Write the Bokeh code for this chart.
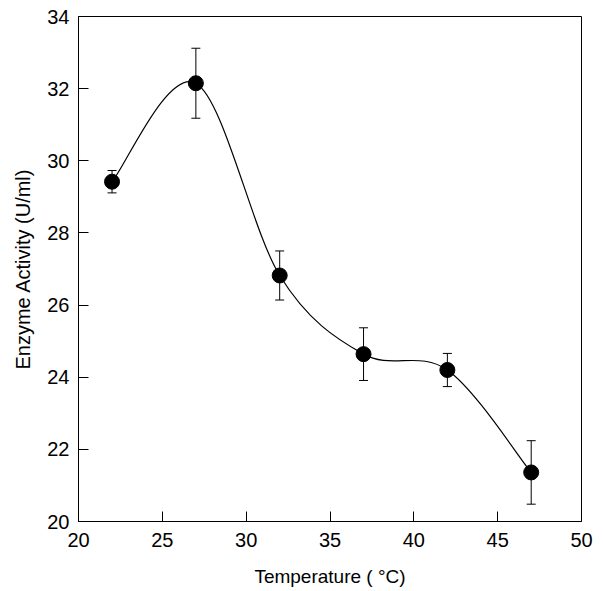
from bokeh.plotting import figure
from bokeh.models import ColumnDataSource, Whisker, Range1d, FixedTicker
from bokeh.embed import file_html
from bokeh.resources import INLINE

temperature = [22, 27, 32, 37, 42, 47]
activity = [29.42, 32.15, 26.82, 24.64, 24.20, 21.36]
error = [0.31, 0.97, 0.68, 0.73, 0.46, 0.88]
x_ticks = [20, 25, 30, 35, 40, 45, 50]
y_ticks = [20, 22, 24, 26, 28, 30, 32, 34]

src = ColumnDataSource(dict(
    x=temperature, y=activity,
    lower=[a - e for a, e in zip(activity, error)],
    upper=[a + e for a, e in zip(activity, error)],
))

# smooth curve through the points: Catmull-Rom segments drawn as Bezier glyphs
n = len(temperature)
px = [temperature[0]] + temperature + [temperature[-1]]
py = [activity[0]] + activity + [activity[-1]]
seg = dict(x0=[], y0=[], x1=[], y1=[], cx0=[], cy0=[], cx1=[], cy1=[])
for i in range(1, n):
    seg["x0"].append(px[i]); seg["y0"].append(py[i])
    seg["x1"].append(px[i + 1]); seg["y1"].append(py[i + 1])
    seg["cx0"].append(px[i] + (px[i + 1] - px[i - 1]) / 6)
    seg["cy0"].append(py[i] + (py[i + 1] - py[i - 1]) / 6)
    seg["cx1"].append(px[i + 1] - (px[i + 2] - px[i]) / 6)
    seg["cy1"].append(py[i + 1] - (py[i + 2] - py[i]) / 6)
curve_src = ColumnDataSource(seg)

p = figure(width=600, height=591, output_backend="svg", toolbar_location=None,
           x_range=Range1d(20, 50), y_range=Range1d(20, 34),
           min_border_left=78, min_border_right=19, min_border_top=16, min_border_bottom=70)

p.xgrid.visible = False
p.ygrid.visible = False
p.outline_line_color = "black"
p.outline_line_width = 1
p.background_fill_color = "white"
p.border_fill_color = "white"

font = "Liberation Sans"
for ax in (p.xaxis[0], p.yaxis[0]):
    ax.major_tick_in = 10
    ax.major_tick_out = 0
    ax.minor_tick_in = 0
    ax.minor_tick_out = 0
    ax.axis_line_color = "black"
    ax.major_tick_line_color = "black"
    ax.major_label_text_font = font
    ax.major_label_text_font_size = "20px"
    ax.major_label_text_color = "black"
    ax.axis_label_text_font = font
    ax.axis_label_text_font_style = "normal"
    ax.axis_label_text_color = "black"

p.xaxis.axis_label_text_font_size = "19px"
p.yaxis.axis_label_text_font_size = "20px"
p.xaxis.ticker = FixedTicker(ticks=x_ticks)
p.yaxis.ticker = FixedTicker(ticks=y_ticks)
p.xaxis.axis_label = "Temperature ( °C)"
p.yaxis.axis_label = "Enzyme Activity (U/ml)"
p.xaxis.major_label_standoff = 11
p.yaxis.major_label_standoff = 9
p.xaxis.axis_label_standoff = 16
p.yaxis.axis_label_standoff = 10

p.bezier(x0="x0", y0="y0", x1="x1", y1="y1", cx0="cx0", cy0="cy0", cx1="cx1", cy1="cy1",
         source=curve_src, line_color="black", line_width=1.2)

w = Whisker(base="x", lower="lower", upper="upper", source=src,
            line_color="black", line_width=1)
w.upper_head.size = 9
w.lower_head.size = 9
w.upper_head.line_color = "black"
w.lower_head.line_color = "black"
p.add_layout(w)

p.scatter(x="x", y="y", source=src, size=15, fill_color="black", line_color="black")

open("out.html", "w").write(file_html(p, INLINE))
